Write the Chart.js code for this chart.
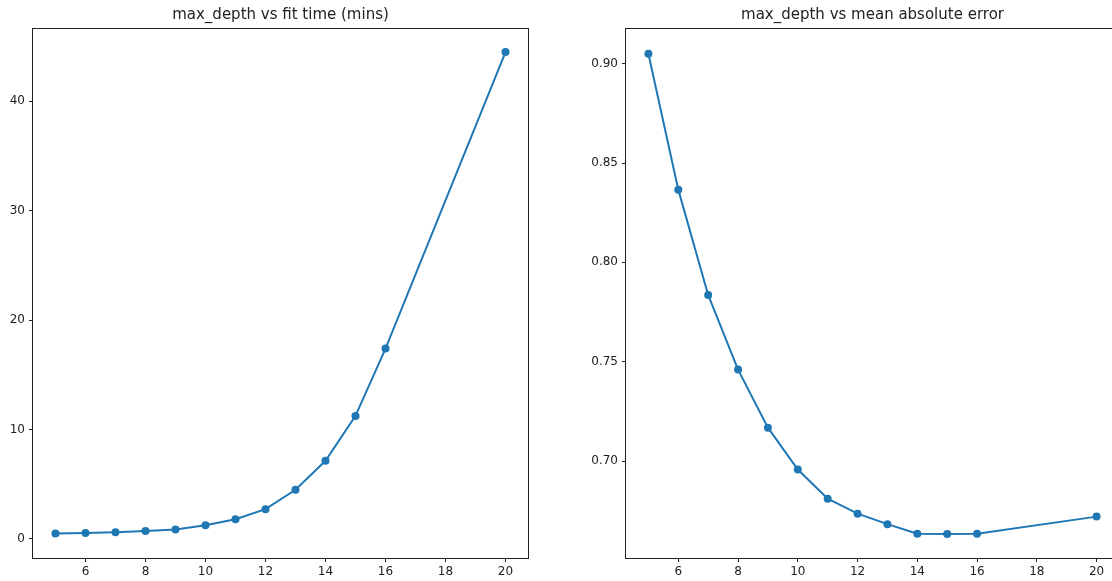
<!DOCTYPE html>
<html>
<head>
<meta charset="utf-8">
<script src="https://cdn.jsdelivr.net/npm/chart.js@4.4.1/dist/chart.umd.min.js"></script>
<style>
  html, body { margin: 0; padding: 0; background: #fff; overflow: hidden; width: 1112px; height: 581px; }
  canvas { position: absolute; top: 0; }
  #left { left: 0; }
  #right { left: 570px; }
</style>
</head>
<body>
<canvas id="left" width="560" height="581"></canvas>
<canvas id="right" width="560" height="581"></canvas>
<script>
const maxDepth = [5, 6, 7, 8, 9, 10, 11, 12, 13, 14, 15, 16, 20]
const fitTime = [0.5, 0.55, 0.62, 0.72, 0.87, 1.25, 1.8, 2.72, 4.5, 7.15, 11.25, 17.4, 44.5]
const meanAbsError = [0.905, 0.8366, 0.7836, 0.746, 0.7168, 0.6957, 0.6810, 0.6735, 0.6682, 0.6634, 0.6632, 0.6634, 0.6720]

const xTicks = [6, 8, 10, 12, 14, 16, 18, 20]
const fitTicks = [0, 10, 20, 30, 40]
const maeTicks = [0.70, 0.75, 0.80, 0.85, 0.90]

const blue = '#1f77b4'
const font = 'DejaVu Sans'

// matplotlib style frame on all four sides
const framePlugin = {
  id: 'frame',
  afterDraw (chart) {
    const { ctx, chartArea: a } = chart
    ctx.save()
    ctx.strokeStyle = '#222'
    ctx.lineWidth = 1
    ctx.strokeRect(Math.round(a.left) - 0.5, Math.round(a.top) - 0.5,
      Math.round(a.right - a.left) + 1, Math.round(a.bottom - a.top) + 1)
    ctx.restore()
  }
}

const makeChart = (id, title, values, yTicks, yRange, yWidth, padRight, fmt) => {
  const ctx = document.getElementById(id).getContext('2d')
  return new Chart(ctx, {
    type: 'scatter',
    data: {
      datasets: [{
        data: maxDepth.map((x, i) => ({ x, y: values[i] })),
        showLine: true,
        borderColor: blue,
        backgroundColor: blue,
        borderWidth: 2,
        pointRadius: 4,
        pointBorderWidth: 0,
        pointHoverRadius: 4
      }]
    },
    plugins: [framePlugin],
    options: {
      responsive: false,
      animation: false,
      devicePixelRatio: 1,
      layout: { padding: { left: 0, right: padRight, top: 0, bottom: 0 } },
      plugins: {
        legend: { display: false },
        tooltip: { enabled: false },
        title: {
          display: true,
          text: title,
          fullSize: false,
          color: '#222',
          font: { family: font, size: 15, weight: 'normal' },
          padding: { top: 6, bottom: 5 }
        }
      },
      scales: {
        x: {
          type: 'linear',
          min: 4.25,
          max: 20.75,
          afterBuildTicks: (axis) => { axis.ticks = xTicks.map(v => ({ value: v })) },
          afterFit: (axis) => { axis.height = 23 },
          border: { display: false },
          grid: { drawOnChartArea: false, drawTicks: true, tickLength: 4, color: '#222', lineWidth: 1 },
          ticks: { color: '#222', font: { family: font, size: 12 }, padding: 3, maxRotation: 0 }
        },
        y: {
          type: 'linear',
          min: yRange[0],
          max: yRange[1],
          afterBuildTicks: (axis) => { axis.ticks = yTicks.map(v => ({ value: v })) },
          afterFit: (axis) => { axis.width = yWidth },
          border: { display: false },
          grid: { drawOnChartArea: false, drawTicks: true, tickLength: 4, color: '#222', lineWidth: 1 },
          ticks: { color: '#222', font: { family: font, size: 12 }, padding: 4, callback: fmt }
        }
      }
    }
  })
}

makeChart('left', 'max_depth vs fit time (mins)', fitTime, fitTicks, [-1.74, 46.61], 33, 32, v => String(v))
makeChart('right', 'max_depth vs mean absolute error', meanAbsError, maeTicks, [0.65117, 0.91747], 56, 11, v => v.toFixed(2))
</script>
</body>
</html>
